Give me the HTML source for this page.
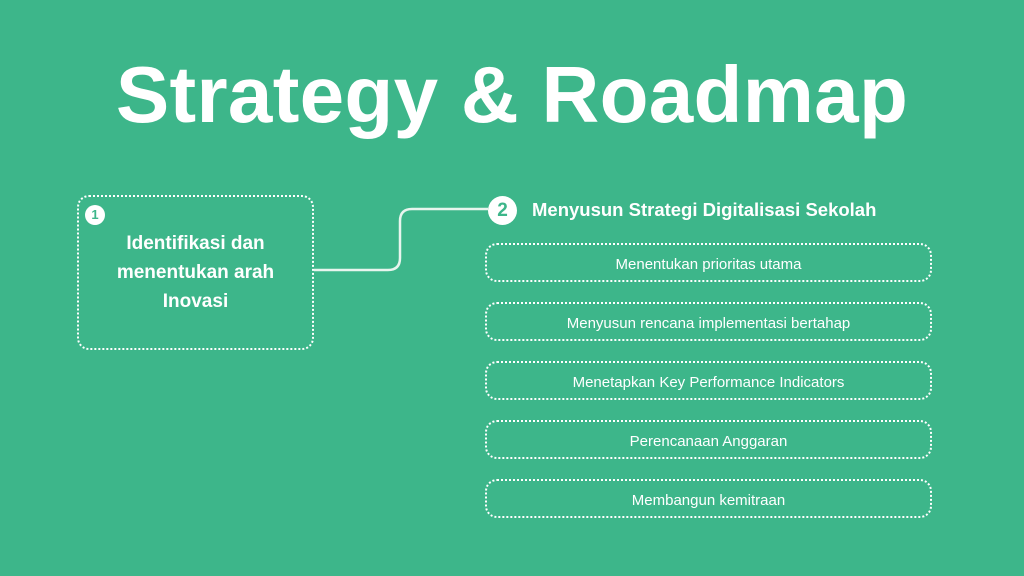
<!DOCTYPE html>
<html><head><style>
body{margin:0;width:1024px;height:576px;background:#3db68a;font-family:"Liberation Sans",sans-serif;color:#fff;position:relative;overflow:hidden}
.t{position:absolute;left:0;width:1024px;top:47px;text-align:center;font-weight:bold;font-size:80px;line-height:96px;letter-spacing:0.3px}
.b1{position:absolute;left:77px;top:195px;width:233px;height:151px;border:2px dotted #fff;border-radius:12px}
.c{position:absolute;background:#fff;color:#3db68a;border-radius:50%;text-align:center;font-weight:bold}
.b1t{position:absolute;left:77px;top:229px;width:237px;text-align:center;font-weight:bold;font-size:19px;line-height:29px}
.h{position:absolute;left:532px;top:198px;font-weight:bold;font-size:18.5px;line-height:24px}
.s{position:absolute;left:485px;width:443px;height:35px;border:2px dotted #fff;border-radius:12px;text-align:center;font-size:15px;line-height:39px}
</style></head><body>
<div class="t">Strategy &amp; Roadmap</div>
<div class="b1"></div>
<div class="c" style="left:85px;top:205px;width:20px;height:20px;font-size:13px;line-height:20px">1</div>
<div class="b1t">Identifikasi dan<br>menentukan arah<br>Inovasi</div>
<svg style="position:absolute;left:0;top:0" width="1024" height="576"><path d="M314 270 H388 Q400 270 400 258 V221 Q400 209 412 209 H488" fill="none" stroke="#e8f5ee" stroke-width="2.5"/></svg>
<div class="c" style="left:488px;top:196px;width:29px;height:29px;font-size:19px;line-height:29px">2</div>
<div class="h">Menyusun Strategi Digitalisasi Sekolah</div>
<div class="s" style="top:243px">Menentukan prioritas utama</div>
<div class="s" style="top:302px">Menyusun rencana implementasi bertahap</div>
<div class="s" style="top:361px">Menetapkan Key Performance Indicators</div>
<div class="s" style="top:420px">Perencanaan Anggaran</div>
<div class="s" style="top:479px">Membangun kemitraan</div>
</body></html>
